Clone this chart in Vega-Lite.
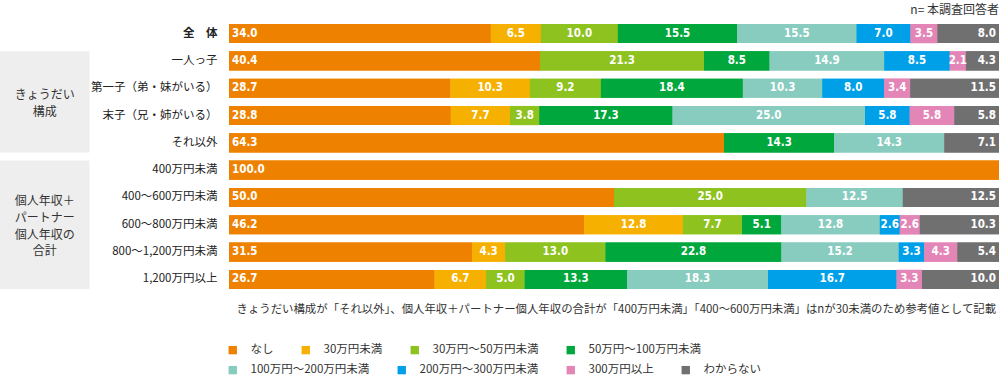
{
  "$schema": "https://vega.github.io/schema/vega-lite/v6.json",
  "padding": {"left": 0, "top": 4, "right": 2, "bottom": 0},
  "background": "white",
  "spacing": 0,
  "config": {"view": {"stroke": null}, "font": "Noto Sans CJK JP", "concat": {"spacing": 0}},
  "title": {"text": "n= 本調査回答者", "anchor": "end", "fontSize": 12, "fontWeight": "normal", "color": "#333333", "offset": 7, "font": "Noto Sans CJK JP"},
  "datasets": {
    "bars": [
      {"r": "全　体", "c": "なし", "k": 1, "v": 34.0},
      {"r": "全　体", "c": "30万円未満", "k": 2, "v": 6.5},
      {"r": "全　体", "c": "30万円～50万円未満", "k": 3, "v": 10.0},
      {"r": "全　体", "c": "50万円～100万円未満", "k": 4, "v": 15.5},
      {"r": "全　体", "c": "100万円～200万円未満", "k": 5, "v": 15.5},
      {"r": "全　体", "c": "200万円～300万円未満", "k": 6, "v": 7.0},
      {"r": "全　体", "c": "300万円以上", "k": 7, "v": 3.5},
      {"r": "全　体", "c": "わからない", "k": 8, "v": 8.0},
      {"r": "一人っ子", "c": "なし", "k": 1, "v": 40.4},
      {"r": "一人っ子", "c": "30万円～50万円未満", "k": 3, "v": 21.3},
      {"r": "一人っ子", "c": "50万円～100万円未満", "k": 4, "v": 8.5},
      {"r": "一人っ子", "c": "100万円～200万円未満", "k": 5, "v": 14.9},
      {"r": "一人っ子", "c": "200万円～300万円未満", "k": 6, "v": 8.5},
      {"r": "一人っ子", "c": "300万円以上", "k": 7, "v": 2.1},
      {"r": "一人っ子", "c": "わからない", "k": 8, "v": 4.3},
      {"r": "第一子（弟・妹がいる）", "c": "なし", "k": 1, "v": 28.7},
      {"r": "第一子（弟・妹がいる）", "c": "30万円未満", "k": 2, "v": 10.3},
      {"r": "第一子（弟・妹がいる）", "c": "30万円～50万円未満", "k": 3, "v": 9.2},
      {"r": "第一子（弟・妹がいる）", "c": "50万円～100万円未満", "k": 4, "v": 18.4},
      {"r": "第一子（弟・妹がいる）", "c": "100万円～200万円未満", "k": 5, "v": 10.3},
      {"r": "第一子（弟・妹がいる）", "c": "200万円～300万円未満", "k": 6, "v": 8.0},
      {"r": "第一子（弟・妹がいる）", "c": "300万円以上", "k": 7, "v": 3.4},
      {"r": "第一子（弟・妹がいる）", "c": "わからない", "k": 8, "v": 11.5},
      {"r": "末子（兄・姉がいる）", "c": "なし", "k": 1, "v": 28.8},
      {"r": "末子（兄・姉がいる）", "c": "30万円未満", "k": 2, "v": 7.7},
      {"r": "末子（兄・姉がいる）", "c": "30万円～50万円未満", "k": 3, "v": 3.8},
      {"r": "末子（兄・姉がいる）", "c": "50万円～100万円未満", "k": 4, "v": 17.3},
      {"r": "末子（兄・姉がいる）", "c": "100万円～200万円未満", "k": 5, "v": 25.0},
      {"r": "末子（兄・姉がいる）", "c": "200万円～300万円未満", "k": 6, "v": 5.8},
      {"r": "末子（兄・姉がいる）", "c": "300万円以上", "k": 7, "v": 5.8},
      {"r": "末子（兄・姉がいる）", "c": "わからない", "k": 8, "v": 5.8},
      {"r": "それ以外", "c": "なし", "k": 1, "v": 64.3},
      {"r": "それ以外", "c": "50万円～100万円未満", "k": 4, "v": 14.3},
      {"r": "それ以外", "c": "100万円～200万円未満", "k": 5, "v": 14.3},
      {"r": "それ以外", "c": "わからない", "k": 8, "v": 7.1},
      {"r": "400万円未満", "c": "なし", "k": 1, "v": 100.0},
      {"r": "400～600万円未満", "c": "なし", "k": 1, "v": 50.0},
      {"r": "400～600万円未満", "c": "30万円～50万円未満", "k": 3, "v": 25.0},
      {"r": "400～600万円未満", "c": "100万円～200万円未満", "k": 5, "v": 12.5},
      {"r": "400～600万円未満", "c": "わからない", "k": 8, "v": 12.5},
      {"r": "600～800万円未満", "c": "なし", "k": 1, "v": 46.2},
      {"r": "600～800万円未満", "c": "30万円未満", "k": 2, "v": 12.8},
      {"r": "600～800万円未満", "c": "30万円～50万円未満", "k": 3, "v": 7.7},
      {"r": "600～800万円未満", "c": "50万円～100万円未満", "k": 4, "v": 5.1},
      {"r": "600～800万円未満", "c": "100万円～200万円未満", "k": 5, "v": 12.8},
      {"r": "600～800万円未満", "c": "200万円～300万円未満", "k": 6, "v": 2.6},
      {"r": "600～800万円未満", "c": "300万円以上", "k": 7, "v": 2.6},
      {"r": "600～800万円未満", "c": "わからない", "k": 8, "v": 10.3},
      {"r": "800～1,200万円未満", "c": "なし", "k": 1, "v": 31.5},
      {"r": "800～1,200万円未満", "c": "30万円未満", "k": 2, "v": 4.3},
      {"r": "800～1,200万円未満", "c": "30万円～50万円未満", "k": 3, "v": 13.0},
      {"r": "800～1,200万円未満", "c": "50万円～100万円未満", "k": 4, "v": 22.8},
      {"r": "800～1,200万円未満", "c": "100万円～200万円未満", "k": 5, "v": 15.2},
      {"r": "800～1,200万円未満", "c": "200万円～300万円未満", "k": 6, "v": 3.3},
      {"r": "800～1,200万円未満", "c": "300万円以上", "k": 7, "v": 4.3},
      {"r": "800～1,200万円未満", "c": "わからない", "k": 8, "v": 5.4},
      {"r": "1,200万円以上", "c": "なし", "k": 1, "v": 26.7},
      {"r": "1,200万円以上", "c": "30万円未満", "k": 2, "v": 6.7},
      {"r": "1,200万円以上", "c": "30万円～50万円未満", "k": 3, "v": 5.0},
      {"r": "1,200万円以上", "c": "50万円～100万円未満", "k": 4, "v": 13.3},
      {"r": "1,200万円以上", "c": "100万円～200万円未満", "k": 5, "v": 18.3},
      {"r": "1,200万円以上", "c": "200万円～300万円未満", "k": 6, "v": 16.7},
      {"r": "1,200万円以上", "c": "300万円以上", "k": 7, "v": 3.3},
      {"r": "1,200万円以上", "c": "わからない", "k": 8, "v": 10.0}
    ],
    "groups": [
      {"a": "一人っ子", "b": "それ以外"},
      {"a": "400万円未満", "b": "1,200万円以上"}
    ]
  },
  "hconcat": [
    {
      "width": 89.5,
      "height": 265,
      "layer": [
        {
          "data": {"name": "groups"},
          "mark": {"type": "rect", "color": "#EEEEEE"},
          "encoding": {
            "y": {"field": "a", "type": "nominal", "bandPosition": 0, "axis": null,
              "scale": {"domain": ["全　体", "一人っ子", "第一子（弟・妹がいる）", "末子（兄・姉がいる）", "それ以外", "400万円未満", "400～600万円未満", "600～800万円未満", "800～1,200万円未満", "1,200万円以上"], "paddingInner": 0.3, "paddingOuter": 0}},
            "y2": {"field": "b", "bandPosition": 1}
          }
        },
        {
          "data": {"values": [{"t": "きょうだい\n構成", "r": "第一子（弟・妹がいる）"}]},
          "mark": {"type": "text", "lineBreak": "\n", "fontSize": 12, "color": "#333333", "lineHeight": 17, "baseline": "middle", "align": "center"},
          "encoding": {
            "y": {"field": "r", "type": "nominal", "bandPosition": 0.86, "axis": null},
            "text": {"field": "t"}
          }
        },
        {
          "data": {"values": [{"t": "個人年収＋\nパートナー\n個人年収の\n合計", "r": "400～600万円未満"}]},
          "mark": {"type": "text", "lineBreak": "\n", "fontSize": 12, "color": "#333333", "lineHeight": 16.7, "baseline": "middle", "align": "center"},
          "encoding": {
            "y": {"field": "r", "type": "nominal", "bandPosition": 0.69, "axis": null},
            "text": {"field": "t"}
          }
        }
      ]
    },
    {
      "width": 770,
      "height": 265,
      "data": {"name": "bars"},
      "encoding": {
        "y": {"field": "r", "type": "nominal", "title": null,
          "scale": {"domain": ["全　体", "一人っ子", "第一子（弟・妹がいる）", "末子（兄・姉がいる）", "それ以外", "400万円未満", "400～600万円未満", "600～800万円未満", "800～1,200万円未満", "1,200万円以上"], "paddingInner": 0.3, "paddingOuter": 0},
          "axis": {"domain": false, "ticks": false, "labelPadding": 12, "labelFontSize": 11.5, "labelColor": "#222222", "labelFont": "Noto Sans CJK JP",
            "labelFontWeight": {"condition": {"test": "datum.value === '全　体'", "value": "bold"}, "value": "normal"}}
        },
        "order": {"field": "k", "type": "quantitative"}
      },
      "layer": [
        {
          "mark": {"type": "bar"},
          "encoding": {
            "x": {"field": "v", "type": "quantitative", "stack": "normalize",
              "axis": {"domain": false, "ticks": false, "labels": false, "grid": false, "title": "きょうだい構成が「それ以外」、個人年収＋パートナー個人年収の合計が「400万円未満」「400～600万円未満」はnが30未満のため参考値として記載", "titleX": 7, "titleAlign": "left", "titleFontSize": 11.4, "titleFontWeight": "normal", "titleColor": "#333333", "titlePadding": 14, "titleFont": "Noto Sans CJK JP"}},
            "fill": {"field": "c", "type": "nominal",
              "scale": {"domain": ["わからない", "300万円以上", "200万円～300万円未満", "100万円～200万円未満", "50万円～100万円未満", "30万円～50万円未満", "30万円未満", "なし"],
                "range": ["#717071", "#E385B7", "#00A0E9", "#88CCBF", "#00A73C", "#8DC21F", "#F6B100", "#EE8200"]},
              "legend": {"values": ["100万円～200万円未満", "200万円～300万円未満", "300万円以上", "わからない"], "orient": "none", "legendX": 227, "legendY": 340, "direction": "horizontal", "title": null, "symbolType": "square", "symbolSize": 70, "symbolStrokeWidth": 0, "symbolOpacity": 1, "labelFontSize": 11.5, "labelFont": "Noto Sans CJK JP", "labelColor": "#333333", "columnPadding": 26, "labelOffset": 12}
            }
          }
        },
        {
          "mark": {"type": "bar"},
          "encoding": {
            "x": {"field": "v", "type": "quantitative", "stack": "normalize"},
            "color": {"field": "c", "type": "nominal",
              "scale": {"domain": ["なし", "30万円未満", "30万円～50万円未満", "50万円～100万円未満", "100万円～200万円未満", "200万円～300万円未満", "300万円以上", "わからない"],
                "range": ["#EE8200", "#F6B100", "#8DC21F", "#00A73C", "#88CCBF", "#00A0E9", "#E385B7", "#717071"]},
              "legend": {"values": ["なし", "30万円未満", "30万円～50万円未満", "50万円～100万円未満"], "orient": "none", "legendX": 227, "legendY": 320, "direction": "horizontal", "title": null, "symbolType": "square", "symbolSize": 70, "symbolStrokeWidth": 0, "symbolOpacity": 1, "labelFontSize": 11.5, "labelFont": "Noto Sans CJK JP", "labelColor": "#333333", "columnPadding": 26, "labelOffset": 12}
            }
          }
        },
        {
          "mark": {"type": "text", "color": "white", "font": "Liberation Sans Narrow, DejaVu Sans Condensed, sans-serif", "fontWeight": "bold", "fontSize": 11.5, "align": "left", "dx": 3, "baseline": "middle"},
          "encoding": {
            "x": {"field": "v", "type": "quantitative", "stack": "normalize", "bandPosition": 0},
            "detail": {"field": "c"},
            "text": {"condition": {"test": "datum.c === 'なし'", "field": "v", "type": "quantitative", "format": ".1f"}, "value": ""}
          }
        },
        {
          "mark": {"type": "text", "color": "white", "font": "Liberation Sans Narrow, DejaVu Sans Condensed, sans-serif", "fontWeight": "bold", "fontSize": 11.5, "align": "center", "baseline": "middle"},
          "encoding": {
            "x": {"field": "v", "type": "quantitative", "stack": "normalize", "bandPosition": 0.5},
            "detail": {"field": "c"},
            "text": {"condition": {"test": "datum.c !== 'なし' && datum.c !== 'わからない'", "field": "v", "type": "quantitative", "format": ".1f"}, "value": ""}
          }
        },
        {
          "mark": {"type": "text", "color": "white", "font": "Liberation Sans Narrow, DejaVu Sans Condensed, sans-serif", "fontWeight": "bold", "fontSize": 11.5, "align": "right", "dx": -3, "baseline": "middle"},
          "encoding": {
            "x": {"field": "v", "type": "quantitative", "stack": "normalize", "bandPosition": 1},
            "detail": {"field": "c"},
            "text": {"condition": {"test": "datum.c === 'わからない'", "field": "v", "type": "quantitative", "format": ".1f"}, "value": ""}
          }
        }
      ]
    }
  ]
}
